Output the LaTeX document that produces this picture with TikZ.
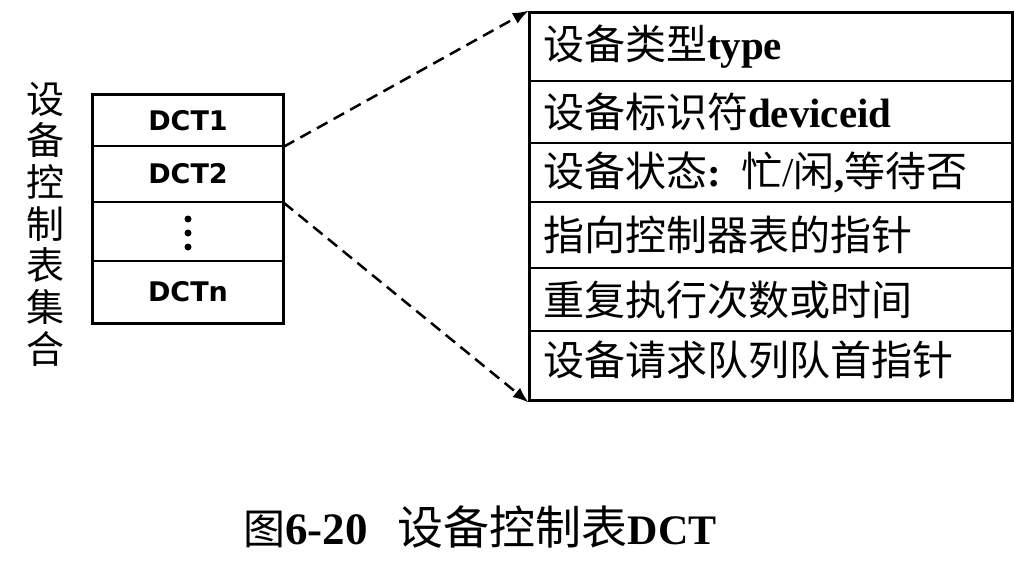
\documentclass[tikz,border=0pt]{standalone}
\usepackage{fontspec}
\setmainfont{Liberation Serif}
\newfontfamily\cjk{Noto Sans CJK SC}
\newfontfamily\dejab{DejaVu Sans}
\usetikzlibrary{arrows.meta,fit}
\begin{document}
\begin{tikzpicture}[x=1pt,y=-1pt,
  lcell/.style={draw, line width=1.5pt, minimum width=190pt, inner sep=0pt, font=\dejab\bfseries\fontsize{27}{27}\selectfont},
  rcell/.style={draw, line width=1.5pt, inner xsep=13pt, inner ysep=0pt, text width=456pt, align=left, font=\fontsize{41}{41}\selectfont},
  frame/.style={draw, inner sep=0pt},
  vdot/.style={circle, fill, inner sep=0pt, minimum size=7pt},
  zoomarrow/.style={line width=2.5pt, dash pattern=on 12pt off 7pt, -{Latex[length=16pt,width=12pt]}, shorten >=-1pt}
]
\useasboundingbox (0,0) rectangle (1014,578);
% left table
\node[lcell, minimum height=51pt] (l1) at (188,120.5) {DCT1};
\node[lcell, minimum height=56pt] (l2) at (188,174) {DCT2};
\node[lcell, minimum height=59pt] (l3) at (188,231.5) {};
\node[vdot] (d1) at (188,219) {};
\node[vdot] (d2) at (188,233) {};
\node[vdot] (d3) at (188,247) {};
\node[lcell, minimum height=62pt] (l4) at (188,292) {DCTn};
\node[frame, line width=3pt, fit=(l1)(l4)] (lbox) {};
% left label
\node[font=\cjk\fontsize{38}{41.7}\selectfont, align=center] (lbl) at (46,224) {设\\备\\控\\制\\表\\集\\合};
% right table
\node[rcell, minimum height=68pt] (r1) at (771,47) {{\cjk 设备类型}\textbf{type}};
\node[rcell, minimum height=62pt] (r2) at (771,112) {{\cjk 设备标识符}\textbf{deviceid}};
\node[rcell, minimum height=59pt] (r3) at (771,172.5) {{\cjk 设备状态}\textbf{: }{\cjk 忙}/{\cjk 闲}\textbf{,}{\cjk 等待否}};
\node[rcell, minimum height=66pt] (r4) at (771,235) {{\cjk 指向控制器表的指针}};
\node[rcell, minimum height=63pt] (r5) at (771,299.5) {{\cjk 重复执行次数或时间}};
\node[rcell, minimum height=69pt] (r6) at (771,365.5) {};
\node[font=\cjk\fontsize{41}{41}\selectfont, anchor=west, inner sep=0pt] (r6t) at (543,360) {设备请求队列队首指针};
\node[frame, line width=2.5pt, fit=(r1)(r6)] (rbox) {};
% connectors
\draw[zoomarrow] (l1.south east) -- (rbox.north west);
\draw[zoomarrow] (l2.south east) -- (rbox.south west);
% caption
\node[inner sep=0pt] (cap) at (480,527) {{\cjk\fontsize{42}{42}\selectfont 图}{\fontsize{45}{45}\selectfont\textbf{6-20}}\hspace{30pt}{\cjk\fontsize{46}{46}\selectfont 设备控制表}{\fontsize{42}{42}\selectfont\textbf{DCT}}};
\end{tikzpicture}
\end{document}
